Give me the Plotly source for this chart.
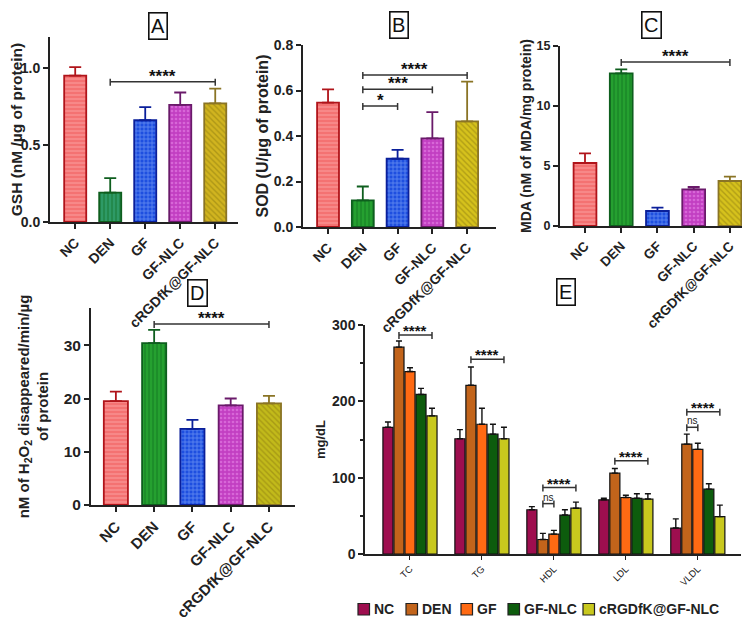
import plotly.graph_objects as go

# ---------------- data ----------------
categories = ["NC", "DEN", "GF", "GF-NLC", "cRGDfK@GF-NLC"]

gsh_mean = [0.95, 0.19, 0.66, 0.76, 0.77]
gsh_err = [0.055, 0.095, 0.085, 0.08, 0.095]

sod_mean = [0.547, 0.117, 0.30, 0.39, 0.464]
sod_err = [0.058, 0.061, 0.039, 0.115, 0.175]

mda_mean = [5.25, 12.72, 1.25, 3.06, 3.75]
mda_err = [0.8, 0.34, 0.28, 0.19, 0.36]

cat_mean = [19.5, 30.4, 14.3, 18.7, 19.1]
cat_err = [1.8, 2.5, 1.7, 1.3, 1.4]

lipid_params = ["TC", "TG", "HDL", "LDL", "VLDL"]
lipid_nc = [166, 151, 58, 71, 34]
lipid_nc_err = [7, 12, 4, 2, 12]
lipid_den = [271, 221, 19, 106, 144]
lipid_den_err = [8, 24, 8, 6, 13]
lipid_gf = [239, 170, 26, 74, 137]
lipid_gf_err = [5, 21, 5, 3, 8]
lipid_gfnlc = [209, 157, 51, 73, 85]
lipid_gfnlc_err = [8, 13, 7, 6, 7]
lipid_crgd = [181, 151, 60, 72, 49]
lipid_crgd_err = [10, 15, 8, 7, 15]

# significance brackets: (from index, to index, height, label)
sig_a = [(1, 4, 0.909, "****")]
sig_b = [(1, 2, 0.532, "*"), (1, 3, 0.605, "***"), (1, 4, 0.668, "****")]
sig_c = [(1, 4, 13.67, "****")]
sig_d = [(1, 4, 34.0, "****")]
# (group, from series, to series, height, label)
sig_e = [(0, 1, 4, 287, "****"), (1, 1, 4, 255, "****"), (2, 1, 4, 87, "****"),
         (2, 1, 2, 66, "ns"), (3, 1, 4, 122, "****"), (4, 1, 4, 186.5, "****"),
         (4, 1, 2, 166, "ns")]

# ---------------- styles ----------------
FONT = "Liberation Sans, Arial, sans-serif"
W, H = 750, 617

styles = [
    dict(bg="#F47272", fg="#FBB0B0", shape="-", line="#B0141A"),
    dict(bg="#25A030", fg="#0E6A1E", shape="|", line="#0E5E1E"),
    dict(bg="#1E4FE0", fg="#A8C8FF", shape="+", line="#0A1F9A"),
    dict(bg="#C23FC2", fg="#EC8FEC", shape=".", line="#6A1A6A"),
    dict(bg="#D6C21C", fg="#8C7A10", shape="\\", line="#8A7425"),
]
e_colors = ["#9E0E4F", "#C2641B", "#FF6A13", "#0D5C0D", "#C8C81E"]


def dom_x(p0, p1):
    return [p0 / W, p1 / W]


def dom_y(top, bottom):
    return [1 - bottom / H, 1 - top / H]


fig = go.Figure()
shapes = []
annotations = []


def add_bracket(xa, ya, a, b, h, lab, size):
    shapes.append(dict(type="line", xref=xa, yref=ya, x0=a, x1=b, y0=h, y1=h,
                       line=dict(color="#333", width=1.5)))
    for xx in (a, b):
        shapes.append(dict(type="line", xref=xa, yref=ya, x0=xx, x1=xx,
                           ysizemode="pixel", yanchor=h, y0=-4, y1=3,
                           line=dict(color="#333", width=1.5)))
    if lab == "ns":
        annotations.append(dict(x=(a + b) / 2, y=h, xref=xa, yref=ya, text=lab,
                                showarrow=False, yanchor="bottom", yshift=-1,
                                font=dict(family=FONT, size=10, color="#222")))
    else:
        annotations.append(dict(x=(a + b) / 2, y=h, xref=xa, yref=ya, text=lab,
                                showarrow=False, yanchor="bottom", yshift=-6,
                                font=dict(family=FONT, size=size, color="#111", weight="bold")))


def add_panel(idx, means, errs, sig, den_bg=None, crgd_bg=None):
    xa = "x" if idx == 1 else f"x{idx}"
    ya = "y" if idx == 1 else f"y{idx}"
    for i, cat in enumerate(categories):
        st = dict(styles[i])
        if i == 1 and den_bg:
            st["bg"] = den_bg
        if i == 4 and crgd_bg:
            st["bg"] = crgd_bg
        fig.add_trace(go.Bar(
            x=[cat], y=[means[i]], width=0.63, xaxis=xa, yaxis=ya,
            showlegend=False,
            marker=dict(color=st["bg"], line=dict(color=st["line"], width=1.8),
                        pattern=dict(shape=st["shape"], fgcolor=st["fg"], bgcolor=st["bg"],
                                     size=4, solidity=0.35, fillmode="overlay")),
            error_y=dict(type="data", symmetric=False, array=[errs[i]], arrayminus=[0],
                         color=st["line"], thickness=1.8, width=6),
        ))
    for a, b, h, lab in sig:
        add_bracket(xa, ya, a, b, h, lab, 17)


add_panel(1, gsh_mean, gsh_err, sig_a, den_bg="#2E9A66", crgd_bg="#D1B41F")
add_panel(2, sod_mean, sod_err, sig_b)
add_panel(3, mda_mean, mda_err, sig_c)
add_panel(4, cat_mean, cat_err, sig_d, crgd_bg="#C2BA1A")

# ---------------- panel E ----------------
e_series = [
    ("NC", lipid_nc, lipid_nc_err),
    ("DEN", lipid_den, lipid_den_err),
    ("GF", lipid_gf, lipid_gf_err),
    ("GF-NLC", lipid_gfnlc, lipid_gfnlc_err),
    ("cRGDfK@GF-NLC", lipid_crgd, lipid_crgd_err),
]
step = 0.153
bw = 0.14
centers = [(i - 2) * step for i in range(5)]
for i, (name, vals, errs) in enumerate(e_series):
    fig.add_trace(go.Bar(
        x=lipid_params, y=vals, name=name, xaxis="x5", yaxis="y5",
        width=bw, offset=centers[i] - bw / 2, showlegend=False,
        marker=dict(color=e_colors[i], line=dict(color="#111", width=1.2)),
        error_y=dict(type="data", symmetric=False, array=errs, arrayminus=[0] * 5,
                     color="#111", thickness=1.4, width=3),
    ))

for g, a, b, h, lab in sig_e:
    add_bracket("x5", "y5", g + centers[a], g + centers[b], h, lab, 15)

# legend drawn manually (compact like the reference)
legend_x = [350, 398, 453, 500, 575]
legend_yc = 601
for i, (name, _, _) in enumerate(e_series):
    x0 = legend_x[i]
    shapes.append(dict(type="rect", xref="paper", yref="paper",
                       x0=x0 / W, x1=(x0 + 11.5) / W,
                       y0=1 - (legend_yc + 6) / H, y1=1 - (legend_yc - 5.5) / H,
                       fillcolor=e_colors[i], line=dict(color="#222", width=1.2)))
    annotations.append(dict(x=(x0 + 14) / W, y=1 - legend_yc / H, xref="paper", yref="paper",
                            text=name, showarrow=False, xanchor="left", yanchor="middle",
                            font=dict(family=FONT, size=14, color="#222", weight="bold")))

# ---------------- axes ----------------
def xax(size, **kw):
    d = dict(showline=True, linecolor="#222", linewidth=2, ticks="outside",
             ticklen=5, tickwidth=2, tickcolor="#222", tickangle=-45,
             tickfont=dict(family=FONT, size=size, color="#222", weight="bold"),
             showgrid=False, zeroline=False, type="category", automargin=False,
             categoryorder="array", categoryarray=categories)
    d.update(kw)
    return d


def yax(size, title, tsize, standoff, **kw):
    d = dict(showline=True, linecolor="#222", linewidth=2, ticks="outside",
             ticklen=5, tickwidth=2, tickcolor="#222", automargin=False,
             tickfont=dict(family=FONT, size=size, color="#222", weight="bold"),
             showgrid=False, zeroline=False,
             title=dict(text=title, standoff=standoff,
                        font=dict(family=FONT, size=tsize, color="#222", weight="bold")))
    d.update(kw)
    return d


fig.update_layout(
    xaxis=xax(14, domain=dom_x(42, 230), range=[-0.72, 4.65], anchor="y"),
    yaxis=yax(14, "GSH (nM /µg of protein)", 15.5, 1,
              domain=dom_y(29, 214), range=[0, 1.2], anchor="x",
              tickvals=[0, 0.5, 1.0], ticktext=["0.0", "0.5", "1.0"]),
    xaxis2=xax(14, domain=dom_x(295, 488), range=[-0.72, 4.83], anchor="y2"),
    yaxis2=yax(14, "SOD (U/µg of protein)", 16, 1,
               domain=dom_y(37, 219), range=[0, 0.8], anchor="x2",
               tickvals=[0, 0.2, 0.4, 0.6, 0.8], ticktext=["0.0", "0.2", "0.4", "0.6", "0.8"]),
    xaxis3=xax(13.5, domain=dom_x(552, 748), range=[-0.69, 4.72], anchor="y3"),
    yaxis3=yax(12.5, "MDA (nM of MDA/mg protein)", 14, 2,
               domain=dom_y(38, 218), range=[0, 15], anchor="x3",
               tickvals=[0, 5, 10, 15]),
    xaxis4=xax(15, domain=dom_x(83, 287), range=[-0.65, 4.68], anchor="y4"),
    yaxis4=yax(15.5, "nM of H<sub>2</sub>O<sub>2</sub> disappeared/min/µg<br>of protein", 15, 11,
               domain=dom_y(300, 497), range=[0, 37], anchor="x4",
               tickvals=[0, 10, 20, 30]),
    xaxis5=dict(showline=True, linecolor="#222", linewidth=1.5, ticks="outside",
                ticklen=4, tickwidth=1.2, tickcolor="#222", tickangle=-45,
                tickfont=dict(family=FONT, size=9.5, color="#111"), automargin=False,
                showgrid=False, zeroline=False, type="category",
                domain=dom_x(357, 733), range=[-0.625, 4.6], anchor="y5"),
    yaxis5=dict(showline=True, linecolor="#222", linewidth=1.5, ticks="outside",
                ticklen=5, tickwidth=1.5, tickcolor="#222", automargin=False,
                tickfont=dict(family=FONT, size=14, color="#222", weight="bold"),
                showgrid=False, zeroline=False,
                domain=dom_y(317, 546), range=[0, 300], anchor="x5",
                tickvals=[0, 100, 200, 300],
                minor=dict(dtick=50, ticks="outside", ticklen=3, tickcolor="#222"),
                title=dict(text="mg/dL", standoff=4,
                           font=dict(family=FONT, size=13, color="#222", weight="bold"))),
)

# panel letters
for lab, cx, cy in [("A", 150, 18), ("B", 391, 17), ("C", 643, 17), ("D", 189, 285), ("E", 558, 284)]:
    annotations.append(dict(x=cx / W, y=1 - cy / H, xref="paper", yref="paper", text=lab,
                            showarrow=False, xanchor="center", yanchor="middle",
                            font=dict(family=FONT, size=20, color="#111"),
                            bordercolor="#111", borderwidth=1.6, borderpad=1.5,
                            bgcolor="white"))

fig.update_layout(
    width=W, height=H,
    margin=dict(l=0, r=0, t=0, b=0),
    paper_bgcolor="white", plot_bgcolor="white",
    barmode="overlay", showlegend=False,
    shapes=shapes, annotations=annotations,
    font=dict(family=FONT),
)

fig.write_html("out.html")
